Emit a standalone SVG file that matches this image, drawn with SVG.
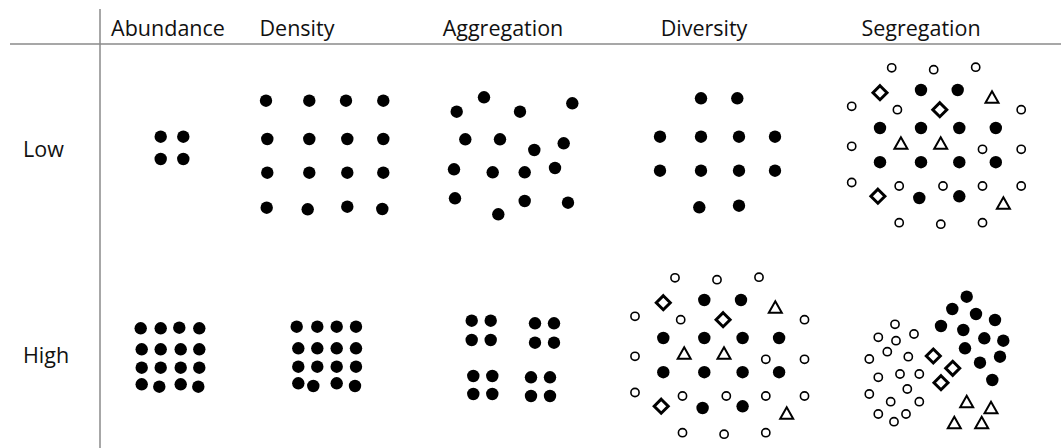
<svg xmlns="http://www.w3.org/2000/svg" xmlns:xlink="http://www.w3.org/1999/xlink" width="1061" height="448" viewBox="0 0 1061 448">
<style>
  text { font-family: "Open Sans", "Liberation Sans", sans-serif; font-size: 21.5px; fill: #111; }
  .hd { text-anchor: middle; }
  .f { fill: #000; }
  .o { fill: #fff; stroke: #000; stroke-width: 1.6; }
  .d { fill: #fff; stroke: #000; stroke-width: 3; }
  .t { fill: #fff; stroke: #000; stroke-width: 2; stroke-linejoin: miter; }
  .rule { stroke: #8a8a8a; stroke-width: 1.5; fill: none; }
</style>
<defs>
  <circle id="dot" r="6.2" class="f"/>
  <circle id="oc" r="4.1" class="o"/>
  <path id="dia" d="M0,-7 L7,0 L0,7 L-7,0 Z" class="d"/>
  <path id="tri" d="M0,-6 L6.5,5.5 L-6.5,5.5 Z" class="t"/>
  <g id="mix">
    <use xlink:href="#oc" x="-29.3" y="-22.2"/>
    <use xlink:href="#oc" x="12.7" y="-20.3"/>
    <use xlink:href="#oc" x="54.7" y="-22.8"/>
    <use xlink:href="#oc" x="-69.3" y="16.3"/>
    <use xlink:href="#oc" x="-23.6" y="19.7"/>
    <use xlink:href="#oc" x="100.2" y="19.7"/>
    <use xlink:href="#oc" x="-69.3" y="56.3"/>
    <use xlink:href="#oc" x="61.5" y="59.3"/>
    <use xlink:href="#oc" x="100.2" y="59.3"/>
    <use xlink:href="#oc" x="-69.3" y="92.5"/>
    <use xlink:href="#oc" x="-21.8" y="96"/>
    <use xlink:href="#oc" x="22" y="96"/>
    <use xlink:href="#oc" x="61.5" y="96"/>
    <use xlink:href="#oc" x="100.2" y="96"/>
    <use xlink:href="#oc" x="-21.8" y="132.7"/>
    <use xlink:href="#oc" x="19.8" y="134.2"/>
    <use xlink:href="#oc" x="61.5" y="132.7"/>
    <use xlink:href="#dot" x="0" y="0"/>
    <use xlink:href="#dot" x="36.7" y="0"/>
    <use xlink:href="#dot" x="-41" y="38"/>
    <use xlink:href="#dot" x="0" y="38"/>
    <use xlink:href="#dot" x="38.3" y="38"/>
    <use xlink:href="#dot" x="74.8" y="38"/>
    <use xlink:href="#dot" x="-41" y="72.2"/>
    <use xlink:href="#dot" x="0" y="72.2"/>
    <use xlink:href="#dot" x="38.3" y="72.2"/>
    <use xlink:href="#dot" x="74.8" y="72.2"/>
    <use xlink:href="#dot" x="-1.7" y="108"/>
    <use xlink:href="#dot" x="38.3" y="106.3"/>
    <use xlink:href="#dia" x="-41" y="2.7"/>
    <use xlink:href="#dia" x="18.8" y="19.7"/>
    <use xlink:href="#dia" x="-43.1" y="106.2"/>
    <use xlink:href="#tri" x="71" y="7.3"/>
    <use xlink:href="#tri" x="-20.1" y="53.3"/>
    <use xlink:href="#tri" x="19.7" y="53.3"/>
    <use xlink:href="#tri" x="82.4" y="113.3"/>
  </g>
</defs>

<g id="grid-lines">
  <line class="rule" x1="100" y1="9" x2="100" y2="448"/>
  <line class="rule" x1="10" y1="44" x2="1061" y2="44"/>
</g>

<g id="headers">
  <text class="hd" x="168" y="36">Abundance</text>
  <text class="hd" x="297" y="36">Density</text>
  <text class="hd" x="503" y="36">Aggregation</text>
  <text class="hd" x="704" y="36">Diversity</text>
  <text class="hd" x="921" y="36">Segregation</text>
</g>

<g id="row-labels">
  <text x="23" y="157">Low</text>
  <text x="23" y="363">High</text>
</g>

<g id="abundance-low">
  <use xlink:href="#dot" x="160.7" y="136.7"/>
  <use xlink:href="#dot" x="183.3" y="136.7"/>
  <use xlink:href="#dot" x="160.7" y="159"/>
  <use xlink:href="#dot" x="183.3" y="159"/>
</g>

<g id="density-low">
  <use xlink:href="#dot" x="266" y="100.7"/>
  <use xlink:href="#dot" x="309.3" y="100.7"/>
  <use xlink:href="#dot" x="346" y="100.7"/>
  <use xlink:href="#dot" x="383.3" y="100.7"/>
  <use xlink:href="#dot" x="267.3" y="139"/>
  <use xlink:href="#dot" x="309.3" y="139"/>
  <use xlink:href="#dot" x="347.3" y="139"/>
  <use xlink:href="#dot" x="383.3" y="139"/>
  <use xlink:href="#dot" x="267.3" y="172.7"/>
  <use xlink:href="#dot" x="309.3" y="172.7"/>
  <use xlink:href="#dot" x="347.3" y="172.7"/>
  <use xlink:href="#dot" x="383.3" y="172.7"/>
  <use xlink:href="#dot" x="266.7" y="207.7"/>
  <use xlink:href="#dot" x="307.7" y="209.3"/>
  <use xlink:href="#dot" x="347.3" y="206.7"/>
  <use xlink:href="#dot" x="382.3" y="209"/>
</g>

<g id="aggregation-low">
  <use xlink:href="#dot" x="484" y="97.3"/>
  <use xlink:href="#dot" x="456.7" y="111.7"/>
  <use xlink:href="#dot" x="520" y="111.7"/>
  <use xlink:href="#dot" x="572.3" y="103.3"/>
  <use xlink:href="#dot" x="465.3" y="139.3"/>
  <use xlink:href="#dot" x="500" y="139.3"/>
  <use xlink:href="#dot" x="534.3" y="150"/>
  <use xlink:href="#dot" x="563.7" y="143.3"/>
  <use xlink:href="#dot" x="454" y="169.3"/>
  <use xlink:href="#dot" x="492.7" y="172.3"/>
  <use xlink:href="#dot" x="524.7" y="172.3"/>
  <use xlink:href="#dot" x="555" y="168"/>
  <use xlink:href="#dot" x="455" y="198.3"/>
  <use xlink:href="#dot" x="524.7" y="201"/>
  <use xlink:href="#dot" x="568" y="202.7"/>
  <use xlink:href="#dot" x="498.3" y="214.3"/>
</g>

<g id="diversity-low">
  <use xlink:href="#dot" x="701" y="98.3"/>
  <use xlink:href="#dot" x="737.3" y="98.3"/>
  <use xlink:href="#dot" x="660" y="136.7"/>
  <use xlink:href="#dot" x="701" y="136.7"/>
  <use xlink:href="#dot" x="739" y="136.7"/>
  <use xlink:href="#dot" x="775" y="136.7"/>
  <use xlink:href="#dot" x="660" y="170.7"/>
  <use xlink:href="#dot" x="701" y="170.7"/>
  <use xlink:href="#dot" x="739" y="170.7"/>
  <use xlink:href="#dot" x="775" y="170.7"/>
  <use xlink:href="#dot" x="699.3" y="207.3"/>
  <use xlink:href="#dot" x="739" y="205.7"/>
</g>

<g id="segregation-low">
  <use xlink:href="#mix" x="921" y="90"/>
</g>

<g id="abundance-high">
  <use xlink:href="#dot" x="140.7" y="328.3"/>
  <use xlink:href="#dot" x="160.7" y="328.3"/>
  <use xlink:href="#dot" x="179.3" y="327.7"/>
  <use xlink:href="#dot" x="199.3" y="328.3"/>
  <use xlink:href="#dot" x="141.7" y="349.3"/>
  <use xlink:href="#dot" x="160.7" y="349.3"/>
  <use xlink:href="#dot" x="180.7" y="349.3"/>
  <use xlink:href="#dot" x="199.3" y="349.3"/>
  <use xlink:href="#dot" x="141.7" y="367.7"/>
  <use xlink:href="#dot" x="160.7" y="367.7"/>
  <use xlink:href="#dot" x="180.7" y="367.7"/>
  <use xlink:href="#dot" x="199.3" y="367.7"/>
  <use xlink:href="#dot" x="141.7" y="384.3"/>
  <use xlink:href="#dot" x="159.3" y="386.7"/>
  <use xlink:href="#dot" x="180.7" y="384.3"/>
  <use xlink:href="#dot" x="198.3" y="386.7"/>
</g>

<g id="density-high">
  <use xlink:href="#dot" x="296.7" y="326.7"/>
  <use xlink:href="#dot" x="317.3" y="326.7"/>
  <use xlink:href="#dot" x="336.7" y="326.7"/>
  <use xlink:href="#dot" x="356" y="326.7"/>
  <use xlink:href="#dot" x="298.3" y="348.3"/>
  <use xlink:href="#dot" x="317.3" y="348.3"/>
  <use xlink:href="#dot" x="336.7" y="348.3"/>
  <use xlink:href="#dot" x="356" y="348.3"/>
  <use xlink:href="#dot" x="298.3" y="366.7"/>
  <use xlink:href="#dot" x="317.3" y="366.7"/>
  <use xlink:href="#dot" x="336.7" y="366.7"/>
  <use xlink:href="#dot" x="356" y="366.7"/>
  <use xlink:href="#dot" x="298.3" y="383.3"/>
  <use xlink:href="#dot" x="313.3" y="386"/>
  <use xlink:href="#dot" x="336.7" y="383.3"/>
  <use xlink:href="#dot" x="355" y="386"/>
</g>

<g id="aggregation-high">
  <use xlink:href="#dot" x="471.7" y="320.7"/>
  <use xlink:href="#dot" x="490.7" y="320.7"/>
  <use xlink:href="#dot" x="471.7" y="340"/>
  <use xlink:href="#dot" x="490.7" y="340"/>
  <use xlink:href="#dot" x="535" y="323.3"/>
  <use xlink:href="#dot" x="554" y="323.3"/>
  <use xlink:href="#dot" x="535" y="342.7"/>
  <use xlink:href="#dot" x="554" y="342.7"/>
  <use xlink:href="#dot" x="473.3" y="376"/>
  <use xlink:href="#dot" x="492.3" y="376"/>
  <use xlink:href="#dot" x="473.3" y="394"/>
  <use xlink:href="#dot" x="492.3" y="394"/>
  <use xlink:href="#dot" x="531" y="377.3"/>
  <use xlink:href="#dot" x="550" y="377.3"/>
  <use xlink:href="#dot" x="531" y="396"/>
  <use xlink:href="#dot" x="550" y="396"/>
</g>

<g id="diversity-high">
  <use xlink:href="#mix" x="704.3" y="300"/>
</g>

<g id="segregation-high">
  <use xlink:href="#oc" x="895" y="324.3"/>
  <use xlink:href="#oc" x="878.3" y="337.3"/>
  <use xlink:href="#oc" x="896" y="340.7"/>
  <use xlink:href="#oc" x="914" y="334"/>
  <use xlink:href="#oc" x="887.3" y="351.7"/>
  <use xlink:href="#oc" x="869.3" y="359"/>
  <use xlink:href="#oc" x="908.3" y="356.7"/>
  <use xlink:href="#oc" x="878.3" y="377.3"/>
  <use xlink:href="#oc" x="900" y="374"/>
  <use xlink:href="#oc" x="919.3" y="374"/>
  <use xlink:href="#oc" x="907.3" y="389"/>
  <use xlink:href="#oc" x="869.3" y="394"/>
  <use xlink:href="#oc" x="890.7" y="401.7"/>
  <use xlink:href="#oc" x="919.3" y="401.7"/>
  <use xlink:href="#oc" x="878.3" y="414"/>
  <use xlink:href="#oc" x="906" y="414"/>
  <use xlink:href="#oc" x="894" y="421.7"/>
  <use xlink:href="#dot" x="966.7" y="296.7"/>
  <use xlink:href="#dot" x="952.3" y="309"/>
  <use xlink:href="#dot" x="976" y="314"/>
  <use xlink:href="#dot" x="995" y="320"/>
  <use xlink:href="#dot" x="941" y="326"/>
  <use xlink:href="#dot" x="963.3" y="330"/>
  <use xlink:href="#dot" x="984.3" y="338.3"/>
  <use xlink:href="#dot" x="1003.3" y="340.7"/>
  <use xlink:href="#dot" x="965" y="348.3"/>
  <use xlink:href="#dot" x="1000" y="356.7"/>
  <use xlink:href="#dot" x="980" y="362.7"/>
  <use xlink:href="#dot" x="992.3" y="380"/>
  <use xlink:href="#dia" x="933.3" y="356"/>
  <use xlink:href="#dia" x="952.7" y="368.3"/>
  <use xlink:href="#dia" x="941" y="382.7"/>
  <use xlink:href="#tri" x="966.7" y="401.7"/>
  <use xlink:href="#tri" x="991" y="407.7"/>
  <use xlink:href="#tri" x="954.3" y="422.7"/>
  <use xlink:href="#tri" x="981.7" y="422.7"/>
</g>
</svg>
